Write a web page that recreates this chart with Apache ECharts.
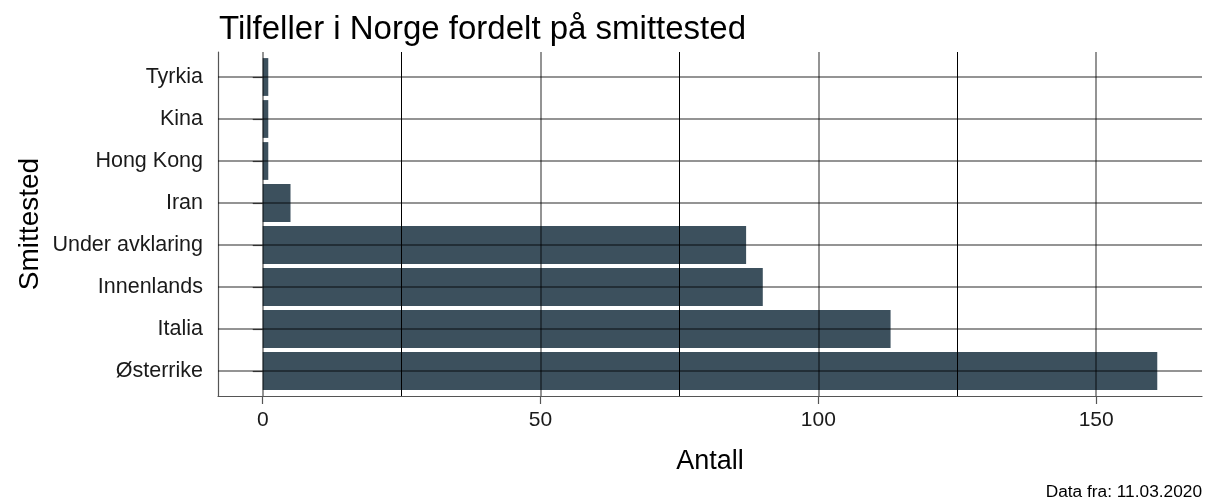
<!DOCTYPE html>
<html>
<head>
<meta charset="utf-8">
<script src="https://cdn.jsdelivr.net/npm/echarts@6/dist/echarts.min.js"></script>
<style>html,body{margin:0;padding:0;background:#fff}#c{width:1208px;height:500px}</style>
</head>
<body>
<div id="c"></div>
<script>
const categories = ['Østerrike', 'Italia', 'Innenlands', 'Under avklaring', 'Iran', 'Hong Kong', 'Kina', 'Tyrkia'];
const values = [161, 113, 90, 87, 5, 1, 1, 1];
const majorTicks = [0, 50, 100, 150];
const minorTicks = [25, 75, 125];
const titleText = 'Tilfeller i Norge fordelt på smittested';
const xTitle = 'Antall';
const yTitle = 'Smittested';
const caption = 'Data fra: 11.03.2020';

const FONT = '"Liberation Sans", Arial, sans-serif';
const majorStyle = { color: 'rgba(0,0,0,0.56)', width: 1.5, type: 'solid' };
const minorStyle = { color: '#000', width: 1, type: 'solid' };
const axisStyle = { color: '#555', width: 1.2 };

const vLines = []
  .concat(majorTicks.map(v => ({ xAxis: v, lineStyle: majorStyle })))
  .concat(minorTicks.map(v => ({ xAxis: v, lineStyle: minorStyle })));
const hLines = categories.map(c => ({ yAxis: c, lineStyle: majorStyle }));

const X_MIN = -8.05, X_MAX = 169.05;

const chart = echarts.init(document.getElementById('c'), null, { renderer: 'canvas' });
chart.setOption({
  animation: false,
  backgroundColor: '#fff',
  textStyle: { fontFamily: FONT },
  title: {
    text: titleText,
    left: 214, top: 8,
    textStyle: { fontFamily: FONT, fontSize: 33, fontWeight: 'normal', color: '#000' }
  },
  grid: [
    { left: 218, right: 6, top: 56, bottom: 108, containLabel: false },
    { left: 218, right: 6, top: 52, bottom: 104, containLabel: false }
  ],
  xAxis: [{
    gridIndex: 0,
    type: 'value', min: X_MIN, max: X_MAX,
    axisLine: { show: false }, axisTick: { show: false }, axisLabel: { show: false },
    splitLine: { show: false }
  }, {
    gridIndex: 1,
    type: 'value', min: X_MIN, max: X_MAX,
    name: xTitle,
    nameLocation: 'middle',
    nameGap: 52,
    nameTextStyle: { fontFamily: FONT, fontSize: 27, color: '#000' },
    axisLine: { show: true, lineStyle: axisStyle },
    axisTick: { show: true, length: 8, customValues: majorTicks, lineStyle: axisStyle },
    axisLabel: { customValues: majorTicks, fontSize: 21, color: '#1a1a1a', margin: 14, fontFamily: FONT },
    splitLine: { show: false }
  }],
  yAxis: [{
    gridIndex: 0,
    type: 'category',
    data: categories,
    axisLine: { show: false },
    axisTick: { show: true, length: 10, alignWithLabel: true, lineStyle: axisStyle },
    axisLabel: { fontSize: 21.5, color: '#1a1a1a', margin: 15, fontFamily: FONT },
    splitLine: { show: false }
  }, {
    gridIndex: 1,
    type: 'value', min: 0, max: 1,
    name: yTitle,
    nameLocation: 'middle',
    nameGap: 174,
    nameRotate: 90,
    nameTextStyle: { fontFamily: FONT, fontSize: 28, color: '#000' },
    axisLine: { show: true, onZero: false, lineStyle: axisStyle },
    axisTick: { show: false }, axisLabel: { show: false },
    splitLine: { show: false }
  }],
  series: [{
    type: 'bar',
    xAxisIndex: 0, yAxisIndex: 0,
    data: values,
    barCategoryGap: '10%',
    itemStyle: { color: '#3c505d' },
    silent: true,
    markLine: {
      silent: true, symbol: ['none', 'none'], label: { show: false },
      emphasis: { disabled: true },
      data: hLines
    }
  }, {
    type: 'line',
    xAxisIndex: 1, yAxisIndex: 1,
    data: [],
    silent: true,
    markLine: {
      silent: true, symbol: ['none', 'none'], label: { show: false },
      emphasis: { disabled: true },
      data: vLines
    }
  }],
  graphic: [{
    type: 'text',
    x: 1202, y: 492,
    style: { text: caption, fontFamily: FONT, fontSize: 17.3, fill: '#000', textAlign: 'right', textVerticalAlign: 'middle' }
  }]
});
</script>
</body>
</html>
